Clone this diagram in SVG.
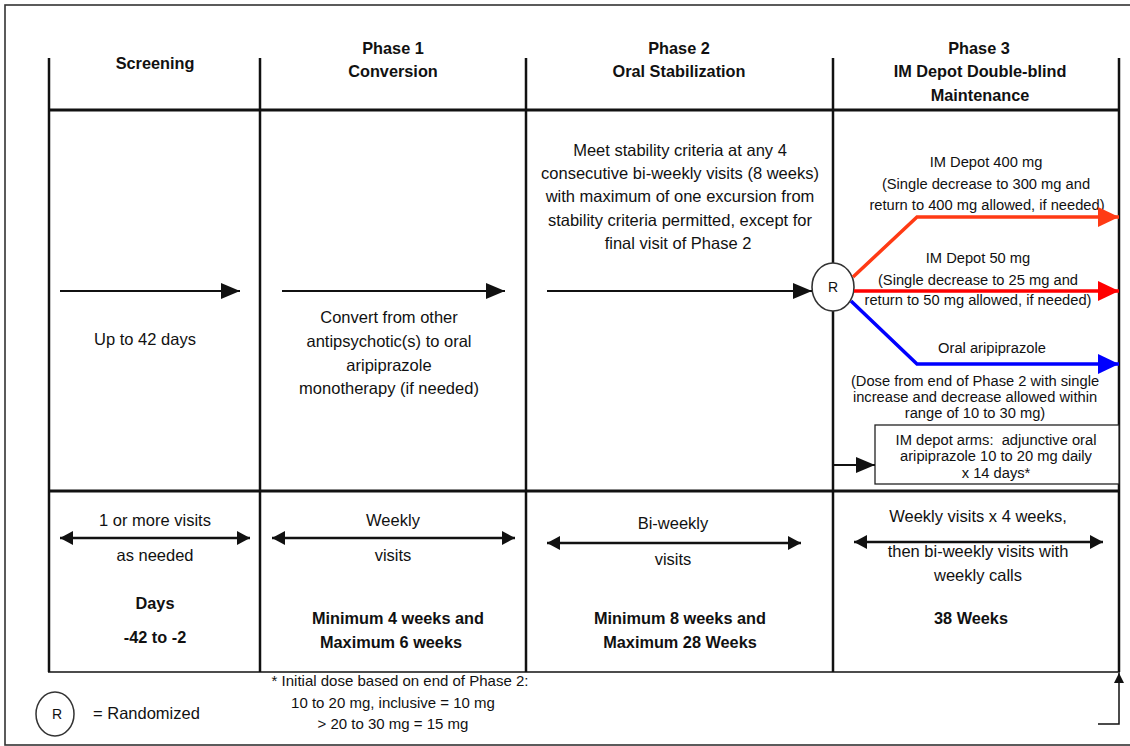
<svg xmlns="http://www.w3.org/2000/svg" width="1130" height="746" viewBox="0 0 1130 746">
<style>
text{font-family:"Liberation Sans",Arial,sans-serif;fill:#111;text-anchor:middle}
.b{font-weight:bold;font-size:16.3px}
.r{font-size:16.5px}
.s{font-size:14.7px}
.f{font-size:15px}
.grid{stroke:#111;fill:none}
</style>
<defs>
<marker id="ah" markerUnits="userSpaceOnUse" markerWidth="20" markerHeight="17" refX="19" refY="8" orient="auto"><path d="M0,0 L19,8 L0,16 z" fill="#111"/></marker>
<marker id="ahs" markerUnits="userSpaceOnUse" markerWidth="14" markerHeight="15" refX="13" refY="7" orient="auto-start-reverse"><path d="M0,0 L13,7 L0,14 z" fill="#111"/></marker>
<marker id="aho" markerUnits="userSpaceOnUse" markerWidth="22" markerHeight="21" refX="21" refY="10" orient="auto"><path d="M0,0 L21,10 L0,20 z" fill="#FF3A14"/></marker>
<marker id="ahr" markerUnits="userSpaceOnUse" markerWidth="22" markerHeight="21" refX="21" refY="10" orient="auto"><path d="M0,0 L21,10 L0,20 z" fill="#FF0000"/></marker>
<marker id="ahb" markerUnits="userSpaceOnUse" markerWidth="22" markerHeight="21" refX="21" refY="10" orient="auto"><path d="M0,0 L21,10 L0,20 z" fill="#0000FF"/></marker>
<marker id="ahu" markerUnits="userSpaceOnUse" markerWidth="12" markerHeight="12" refX="10" refY="5" orient="auto"><path d="M0,0 L10,5 L0,10 z" fill="#111"/></marker>
</defs>
<rect x="5" y="5" width="1140" height="740" fill="#fff" stroke="#333" stroke-width="1.6"/>

<g id="table">
<line class="grid" x1="49" y1="58" x2="49" y2="672" stroke-width="2.5"/>
<line class="grid" x1="260" y1="58" x2="260" y2="672" stroke-width="2.5"/>
<line class="grid" x1="526" y1="58" x2="526" y2="672" stroke-width="2.5"/>
<line class="grid" x1="833" y1="58" x2="833" y2="263" stroke-width="2.5"/>
<line class="grid" x1="833" y1="311" x2="833" y2="672" stroke-width="2.5"/>
<line class="grid" x1="1119" y1="58" x2="1119" y2="672" stroke-width="2.5"/>
<line class="grid" x1="48" y1="110" x2="1120" y2="110" stroke-width="3"/>
<line class="grid" x1="48" y1="491" x2="1120" y2="491" stroke-width="3"/>
<line class="grid" x1="48" y1="672" x2="1120" y2="672" stroke-width="1.6"/>
</g>

<g id="headers">
<text class="b" x="155" y="69">Screening</text>
<text class="b" x="393" y="54">Phase 1</text>
<text class="b" x="393" y="77">Conversion</text>
<text class="b" x="679" y="54">Phase 2</text>
<text class="b" x="679" y="77">Oral Stabilization</text>
<text class="b" x="979" y="54">Phase 3</text>
<text class="b" x="980" y="77">IM Depot Double-blind</text>
<text class="b" x="980" y="101">Maintenance</text>
</g>

<g id="screening">
<text class="r" x="145" y="345">Up to 42 days</text>
<text class="r" x="155" y="526">1 or more visits</text>
<text class="r" x="155" y="561">as needed</text>
<text class="b" x="155" y="609">Days</text>
<text class="b" x="155" y="643">-42 to -2</text>
</g>

<g id="phase1">
<text class="r" x="389" y="323">Convert from other</text>
<text class="r" x="389" y="347">antipsychotic(s) to oral</text>
<text class="r" x="389" y="371">aripiprazole</text>
<text class="r" x="389" y="394">monotherapy (if needed)</text>
<text class="r" x="393" y="526">Weekly</text>
<text class="r" x="393" y="561">visits</text>
<text class="b" x="398" y="624">Minimum 4 weeks and</text>
<text class="b" x="391" y="648">Maximum 6 weeks</text>
</g>

<g id="phase2">
<text class="r" x="680" y="156">Meet stability criteria at any 4</text>
<text class="r" x="680" y="179">consecutive bi-weekly visits (8 weeks)</text>
<text class="r" x="680" y="202">with maximum of one excursion from</text>
<text class="r" x="680" y="226">stability criteria permitted, except for</text>
<text class="r" x="678" y="249">final visit of Phase 2</text>
<text class="r" x="673" y="529">Bi-weekly</text>
<text class="r" x="673" y="565">visits</text>
<text class="b" x="680" y="624">Minimum 8 weeks and</text>
<text class="b" x="680" y="648">Maximum 28 Weeks</text>
</g>

<g id="randomize">
<ellipse cx="833" cy="287" rx="21" ry="24" fill="#fff" stroke="#333" stroke-width="1.6"/>
<text x="833" y="292" style="font-size:14px">R</text>
</g>

<g id="phase3">
<text class="s" x="986" y="167">IM Depot 400 mg</text>
<text class="s" x="986" y="189">(Single decrease to 300 mg and</text>
<text class="s" x="987" y="210">return to 400 mg allowed, if needed)</text>
<text class="s" x="978" y="263">IM Depot 50 mg</text>
<text class="s" x="978" y="285">(Single decrease to 25 mg and</text>
<text class="s" x="978" y="305">return to 50 mg allowed, if needed)</text>
<text class="s" x="992" y="353">Oral aripiprazole</text>
<text class="s" x="975" y="386">(Dose from end of Phase 2 with single</text>
<text class="s" x="975" y="402">increase and decrease allowed within</text>
<text class="s" x="975" y="418">range of 10 to 30 mg)</text>
<text class="r" x="978" y="522">Weekly visits x 4 weeks,</text>
<text class="r" x="978" y="557">then bi-weekly visits with</text>
<text class="r" x="978" y="581">weekly calls</text>
<text class="b" x="971" y="624">38 Weeks</text>
</g>

<g id="adjunct">
<rect x="875" y="425" width="244" height="59" fill="#fff" stroke="#222" stroke-width="1.3"/>
<text class="s" x="996" y="445" style="white-space:pre" xml:space="preserve">IM depot arms:  adjunctive oral</text>
<text class="s" x="996" y="461">aripiprazole 10 to 20 mg daily</text>
<text class="s" x="996" y="478">x 14 days*</text>
</g>

<g id="legend">
<ellipse cx="55" cy="714" rx="19" ry="22" fill="#fff" stroke="#333" stroke-width="1.5"/>
<text x="57" y="719" style="font-size:14px">R</text>
<text class="r" x="93" y="719" style="text-anchor:start">= Randomized</text>
<text class="f" x="400" y="686">* Initial dose based on end of Phase 2:</text>
<text class="f" x="393" y="708">10 to 20 mg, inclusive = 10 mg</text>
<text class="f" x="393" y="729">&gt; 20 to 30 mg = 15 mg</text>
</g>

<g id="connectors" fill="none">
<line x1="60" y1="291" x2="240" y2="291" stroke="#111" stroke-width="2" marker-end="url(#ah)"/>
<line x1="282" y1="291" x2="505" y2="291" stroke="#111" stroke-width="2" marker-end="url(#ah)"/>
<line x1="547" y1="291" x2="812" y2="291" stroke="#111" stroke-width="2" marker-end="url(#ah)"/>
<polyline points="853,277 917,217 1119,217" stroke="#FF3A14" stroke-width="3.5" marker-end="url(#aho)"/>
<line x1="854" y1="291" x2="1119" y2="291" stroke="#FF0000" stroke-width="3.5" marker-end="url(#ahr)"/>
<polyline points="851,301 917,364 1119,364" stroke="#0000FF" stroke-width="3.5" marker-end="url(#ahb)"/>
<line x1="833" y1="465" x2="875" y2="465" stroke="#111" stroke-width="2" marker-end="url(#ah)"/>
<line x1="60" y1="538" x2="250" y2="538" stroke="#111" stroke-width="2.5" marker-start="url(#ahs)" marker-end="url(#ahs)"/>
<line x1="272" y1="538" x2="515" y2="538" stroke="#111" stroke-width="2.5" marker-start="url(#ahs)" marker-end="url(#ahs)"/>
<line x1="547" y1="543" x2="801" y2="543" stroke="#111" stroke-width="2.5" marker-start="url(#ahs)" marker-end="url(#ahs)"/>
<line x1="854" y1="542" x2="1103" y2="542" stroke="#111" stroke-width="2.5" marker-start="url(#ahs)" marker-end="url(#ahs)"/>
<polyline points="1098,724 1119,724 1119,673" stroke="#111" stroke-width="1.5" marker-end="url(#ahu)"/>
</g>
</svg>
